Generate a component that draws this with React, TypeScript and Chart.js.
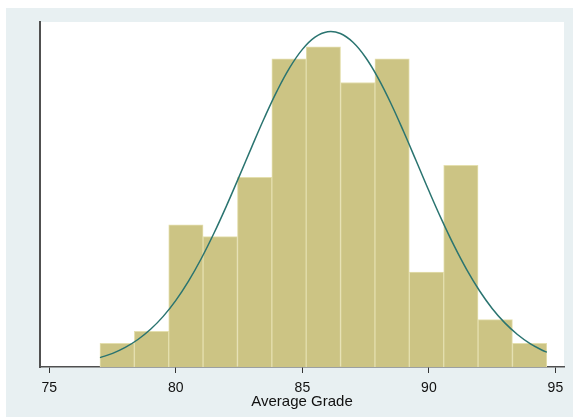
import React, { useEffect, useRef } from "react";
import { Chart, registerables } from "chart.js";

Chart.register(...registerables);

// Histogram bins (Average Grade) – bin centers and frequencies
const binCenters = [77.679, 79.038, 80.396, 81.755, 83.113, 84.472, 85.83, 87.189, 88.547, 89.906, 91.264, 92.623, 93.981];
const binCounts = [2, 3, 12, 11, 16, 26, 27, 24, 26, 8, 17, 4, 2];

// Fitted normal curve (same units as the bars)
const curveX = [77, 77.5, 78, 78.5, 79, 79.5, 80, 80.5, 81, 81.5, 82, 82.5, 83, 83.5, 84, 84.5, 85, 85.5, 86, 86.5, 87, 87.5, 88, 88.5, 89, 89.5, 90, 90.5, 91, 91.5, 92, 92.5, 93, 93.5, 94, 94.5, 94.66];
const curveY = [0.79, 1.15, 1.65, 2.32, 3.18, 4.27, 5.62, 7.24, 9.13, 11.26, 13.59, 16.06, 18.57, 21.02, 23.29, 25.25, 26.79, 27.82, 28.28, 28.13, 27.39, 26.11, 24.35, 22.23, 19.86, 17.37, 14.86, 12.45, 10.21, 8.19, 6.43, 4.94, 3.72, 2.74, 1.97, 1.39, 1.24];

const xTicks = [75, 80, 85, 90, 95];
const xTitle = "Average Grade";

const plotBg = {
  id: "plotBg",
  beforeDraw(chart: any) {
    const { ctx, chartArea } = chart;
    ctx.save();
    ctx.fillStyle = "#ffffff";
    ctx.fillRect(chartArea.left, chartArea.top, chartArea.right - chartArea.left, chartArea.bottom - chartArea.top);
    ctx.restore();
  },
};

export default function App() {
  const ref = useRef<HTMLCanvasElement>(null);
  useEffect(() => {
    if (!ref.current) return;
    const chart = new Chart(ref.current, {
      type: "bar",
      data: {
        datasets: [
          {
            type: "line",
            data: curveX.map((x, i) => ({ x, y: curveY[i] })),
            borderColor: "#2a7470",
            borderWidth: 1.5,
            pointRadius: 0,
            tension: 0.4,
            fill: false,
            order: 0,
          } as any,
          {
            type: "bar",
            data: binCenters.map((x, i) => ({ x, y: binCounts[i] })),
            backgroundColor: "#ccc484",
            borderColor: "#e4dfae",
            borderWidth: 1,
            barPercentage: 1,
            categoryPercentage: 1,
            order: 1,
          } as any,
        ],
      },
      options: {
        animation: false,
        responsive: false,
        maintainAspectRatio: false,
        layout: { padding: { top: 14, right: 9, left: 0, bottom: 0 } },
        plugins: { legend: { display: false }, tooltip: { enabled: false } },
        scales: {
          x: {
            type: "linear",
            offset: false,
            min: 74.63,
            max: 95.34,
            afterBuildTicks: (axis: any) => {
              axis.ticks = xTicks.map((v) => ({ value: v }));
            },
            afterFit: (axis: any) => {
              axis.height = 50;
            },
            border: { display: true, color: "#505050", width: 1.5 },
            grid: { display: true, offset: false, drawOnChartArea: false, drawTicks: true, tickLength: 6, color: "#333333" },
            ticks: {
              color: "#111111",
              font: { family: "'Liberation Sans', Arial, sans-serif", size: 14 },
              padding: 7,
              maxRotation: 0,
              autoSkip: false,
            },
            title: {
              display: true,
              text: xTitle,
              color: "#111111",
              font: { family: "'Liberation Sans', Arial, sans-serif", size: 15 },
              padding: { top: 0, bottom: 6 },
            },
          },
          y: {
            type: "linear",
            min: 0,
            max: 29.1,
            afterFit: (axis: any) => {
              axis.width = 34;
            },
            border: { display: true, color: "#505050", width: 2 },
            grid: { display: false, drawTicks: false },
            ticks: { display: false },
          },
        },
      },
      plugins: [plotBg],
    } as any);
    return () => chart.destroy();
  }, []);
  return (
    <div style={{ position: "fixed", left: 6, top: 8, width: 567, height: 409, background: "#e8f0f2" }}>
      <canvas ref={ref} width={567} height={409} style={{ display: "block", width: 567, height: 409 }} />
    </div>
  );
}
